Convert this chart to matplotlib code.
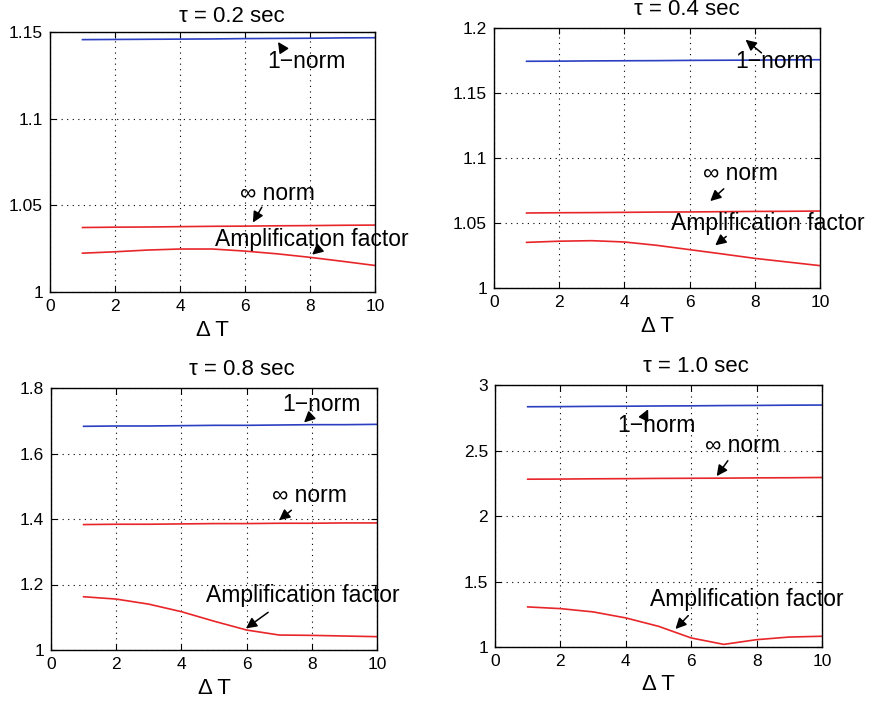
import numpy as np
import matplotlib
matplotlib.use("Agg")
import matplotlib.pyplot as plt
from matplotlib.ticker import FormatStrFormatter

plt.rcParams['font.family'] = ['Liberation Sans', 'DejaVu Sans']

# ---- data ---------------------------------------------------------------
dT = [1, 2, 3, 4, 5, 6, 7, 8, 9, 10]
taus = ["0.2", "0.4", "0.8", "1.0"]

norm1_02 = [1.1456, 1.1457, 1.1458, 1.1459, 1.1460, 1.1462, 1.1463, 1.1464, 1.1466, 1.1467]
norminf_02 = [1.0372, 1.0374, 1.0375, 1.0377, 1.0379, 1.0380, 1.0382, 1.0383, 1.0385, 1.0386]
amp_02 = [1.0224, 1.0232, 1.0242, 1.0248, 1.0248, 1.0236, 1.0220, 1.0200, 1.0177, 1.0153]

norm1_04 = [1.1744, 1.1745, 1.1747, 1.1748, 1.1749, 1.1751, 1.1752, 1.1753, 1.1755, 1.1756]
norminf_04 = [1.0577, 1.0579, 1.0580, 1.0582, 1.0584, 1.0585, 1.0587, 1.0589, 1.0590, 1.0592]
amp_04 = [1.0351, 1.0360, 1.0364, 1.0354, 1.0328, 1.0295, 1.0262, 1.0228, 1.0200, 1.0172]

norm1_08 = [1.683, 1.684, 1.684, 1.685, 1.686, 1.686, 1.687, 1.688, 1.688, 1.689]
norminf_08 = [1.383, 1.384, 1.384, 1.385, 1.386, 1.386, 1.387, 1.387, 1.388, 1.388]
amp_08 = [1.1626, 1.1555, 1.140, 1.117, 1.088, 1.061, 1.0457, 1.0447, 1.0427, 1.0407]

norm1_10 = [2.834, 2.835, 2.837, 2.838, 2.840, 2.841, 2.843, 2.844, 2.846, 2.847]
norminf_10 = [2.281, 2.282, 2.284, 2.285, 2.287, 2.288, 2.289, 2.291, 2.292, 2.294]
amp_10 = [1.306, 1.293, 1.268, 1.222, 1.158, 1.069, 1.020, 1.056, 1.076, 1.082]

ylims = [(1, 1.15), (1, 1.2), (1, 1.8), (1, 3)]
yticks = [[1, 1.05, 1.1, 1.15], [1, 1.05, 1.1, 1.15, 1.2],
          [1, 1.2, 1.4, 1.6, 1.8], [1, 1.5, 2, 2.5, 3]]

# annotation: (text x, text y, arrow tail, arrow head) for 1-norm, inf norm, amplification
notes = [
    [(7.9, 1.1327, (7.2, 1.139), (6.97, 1.1456)),
     (7.0, 1.057, (6.56, 1.0503), (6.2, 1.0387)),
     (8.05, 1.0305, (8.3, 1.0253), (8.0, 1.0205))],
    [(8.6, 1.1744, (8.27, 1.1795), (7.65, 1.1923)),
     (7.55, 1.088, (7.11, 1.0777), (6.57, 1.0654)),
     (8.41, 1.0495, (7.19, 1.041), (6.72, 1.0315))],
    [(8.31, 1.749, (8.0, 1.717), (7.7, 1.689)),
     (7.93, 1.473, (7.44, 1.432), (6.93, 1.391)),
     (7.72, 1.165, (6.73, 1.12), (5.91, 1.061))],
    [(4.93, 2.694, (4.6, 2.771), (4.72, 2.834)),
     (7.58, 2.541, (7.17, 2.439), (6.73, 2.287)),
     (7.71, 1.362, (5.97, 1.255), (5.46, 1.122))],
]
labels = ["1\u2212norm", "\u221e norm", "Amplification factor"]

# axes boxes in pixels: left, top, right, bottom  (figure 875x704)
boxes = [(50, 32, 375, 292), (494, 28, 820, 288), (51, 388, 377, 650), (495, 385, 822, 647)]
title_x = [0.56, 0.592, 0.586, 0.615]
title_y = [1.02, 1.03, 1.03, 1.03]

series = [(norm1_02, norminf_02, amp_02), (norm1_04, norminf_04, amp_04),
          (norm1_08, norminf_08, amp_08), (norm1_10, norminf_10, amp_10)]

W, H = 875, 704
fig = plt.figure(figsize=(W / 100, H / 100), dpi=100)

for i in range(4):
    l, t, r, b = boxes[i]
    ax = fig.add_axes([l / W, 1 - b / H, (r - l) / W, (b - t) / H])
    n1, ninf, amp = series[i]
    ax.plot(dT, n1, color="#2b3fc0", lw=1.2)
    ax.plot(dT, ninf, color="#e8262a", lw=1.2)
    ax.plot(dT, amp, color="#e8262a", lw=1.2)

    ax.set_xlim(0, 10)
    ax.set_ylim(*ylims[i])
    ax.set_xticks(range(0, 11, 2))
    ax.set_yticks(yticks[i])
    ax.yaxis.set_major_formatter(FormatStrFormatter('%g'))
    ax.tick_params(direction='in', top=True, right=True, labelsize=12.5, length=4, pad=5)
    ax.grid(True, linestyle=(0, (1, 4)), color='k', lw=0.8)
    for sp in ax.spines.values():
        sp.set_linewidth(1.0)

    ax.text(title_x[i], title_y[i], f"\u03c4 = {taus[i]} sec", transform=ax.transAxes,
            ha='center', va='bottom', fontsize=16)
    ax.set_xlabel("\u0394 T", fontsize=16, labelpad=4)

    for lab, (tx, ty, tail, head) in zip(labels, notes[i]):
        ax.text(tx, ty, lab, ha='center', va='center', fontsize=16.5)
        ax.annotate('', xy=head, xytext=tail,
                    arrowprops=dict(arrowstyle='-|>', color='k', lw=1.1, mutation_scale=16))

fig.savefig("out.png", dpi=100)
